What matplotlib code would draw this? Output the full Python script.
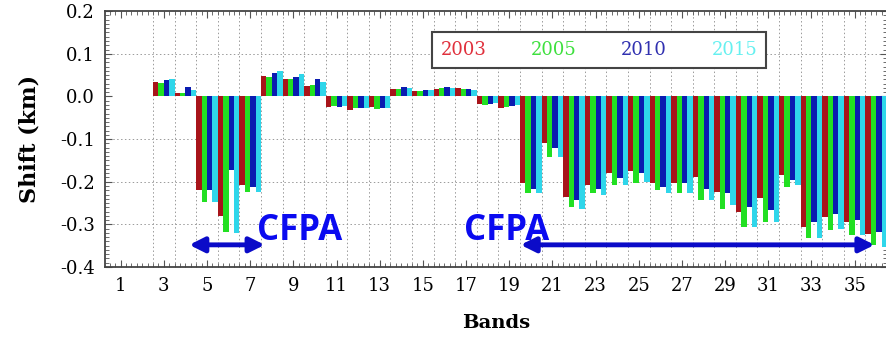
import numpy as np
import matplotlib.pyplot as plt
from matplotlib.ticker import MultipleLocator
from matplotlib.patches import Patch

bands = np.arange(1, 37)
years = ["2003", "2005", "2010", "2015"]

shift_2003 = [0.002, 0.002, 0.035, 0.009, -0.220, -0.281, -0.208, 0.049, 0.040, 0.025,
              -0.024, -0.031, -0.025, 0.017, 0.012, 0.018, 0.020, -0.018, -0.027, -0.204,
              -0.110, -0.235, -0.208, -0.180, -0.176, -0.204, -0.204, -0.190, -0.224, -0.270,
              -0.239, -0.184, -0.306, -0.282, -0.294, -0.322]
shift_2005 = [0.002, 0.002, 0.031, 0.008, -0.247, -0.318, -0.225, 0.045, 0.040, 0.027,
              -0.022, -0.027, -0.030, 0.017, 0.012, 0.020, 0.017, -0.020, -0.025, -0.227,
              -0.141, -0.259, -0.227, -0.208, -0.202, -0.220, -0.227, -0.243, -0.263, -0.306,
              -0.294, -0.212, -0.333, -0.314, -0.325, -0.349]
shift_2010 = [0.002, 0.002, 0.038, 0.022, -0.220, -0.173, -0.212, 0.055, 0.045, 0.040,
              -0.024, -0.027, -0.027, 0.022, 0.014, 0.022, 0.017, -0.017, -0.022, -0.216,
              -0.122, -0.243, -0.216, -0.192, -0.180, -0.212, -0.204, -0.216, -0.227, -0.259,
              -0.267, -0.196, -0.294, -0.275, -0.290, -0.318]
shift_2015 = [0.002, 0.002, 0.042, 0.016, -0.247, -0.320, -0.224, 0.059, 0.053, 0.035,
              -0.022, -0.027, -0.027, 0.020, 0.016, 0.020, 0.015, -0.016, -0.020, -0.227,
              -0.141, -0.263, -0.231, -0.208, -0.200, -0.227, -0.227, -0.243, -0.255, -0.306,
              -0.294, -0.208, -0.333, -0.310, -0.325, -0.353]

series = [shift_2003, shift_2005, shift_2010, shift_2015]
bar_colors = ["#a8141a", "#22e022", "#0a1cb0", "#2fd6ea"]
text_colors = ["#e0303c", "#3ee03e", "#3030b0", "#66f0f0"]

plt.rcParams["font.family"] = "DejaVu Serif"

fig = plt.figure(figsize=(8.87, 3.38), dpi=100)
ax = fig.add_axes([0.118, 0.21, 0.882, 0.757])

w = 0.25
for n, (vals, c) in enumerate(zip(series, bar_colors)):
    ax.bar(bands + (n - 1.5) * w, vals, width=w, color=c, linewidth=0, zorder=2)

ax.set_xlim(0.26, 36.5)
ax.set_ylim(-0.4, 0.2)

# dotted grid at band boundaries and every 0.1 km
for xb in np.arange(2.5, 36.5, 1.0):
    ax.axvline(xb, color="#9a9a9a", lw=0.7, ls=(0, (1.5, 2.5)), zorder=1)
for yb in [0.1, -0.1, -0.2, -0.3]:
    ax.axhline(yb, color="#9a9a9a", lw=0.7, ls=(0, (1.5, 2.5)), zorder=1)

ax.set_xticks(np.arange(1, 37, 2))
ax.xaxis.set_minor_locator(MultipleLocator(0.25))
ax.yaxis.set_major_locator(MultipleLocator(0.1))
ax.yaxis.set_minor_locator(MultipleLocator(0.01))
ax.yaxis.set_major_formatter(plt.FormatStrFormatter("%.1f"))
ax.tick_params(which="both", direction="in", top=True, right=True, color="#555555")
ax.tick_params(which="major", length=5, labelsize=13, pad=7)
ax.tick_params(which="minor", length=3)
for s in ax.spines.values():
    s.set_color("#444444")
    s.set_linewidth(1.3)

ax.set_xlabel("Bands", fontsize=14, fontweight="bold", labelpad=14)
ax.set_ylabel("Shift (km)", fontsize=16, fontweight="bold", labelpad=14)

handles = [Patch(visible=False) for _ in years]
leg = ax.legend(handles, years, loc="center", bbox_to_anchor=(0.632, 0.848), ncol=4,
                handlelength=0, handletextpad=0, columnspacing=2.45, fontsize=13,
                labelcolor=text_colors, fancybox=False, framealpha=1,
                edgecolor="#444444", borderpad=0.5)
leg.get_frame().set_linewidth(1.5)

arrow_kw = dict(arrowstyle="<|-|>", color="#0b0bc8", lw=3.5, mutation_scale=22)
ax.annotate("", xy=(4.05, -0.348), xytext=(7.8, -0.348), arrowprops=arrow_kw, zorder=5)
ax.annotate("", xy=(19.4, -0.348), xytext=(36.05, -0.348), arrowprops=arrow_kw, zorder=5)
ax.text(7.3, -0.336, "CFPA", color="#0a0af0", fontsize=25, fontweight="bold",
        family="Open Sans", va="baseline", zorder=6)
ax.text(16.9, -0.336, "CFPA", color="#0a0af0", fontsize=25, fontweight="bold",
        family="Open Sans", va="baseline", zorder=6)

fig.savefig("out.png", dpi=100)
